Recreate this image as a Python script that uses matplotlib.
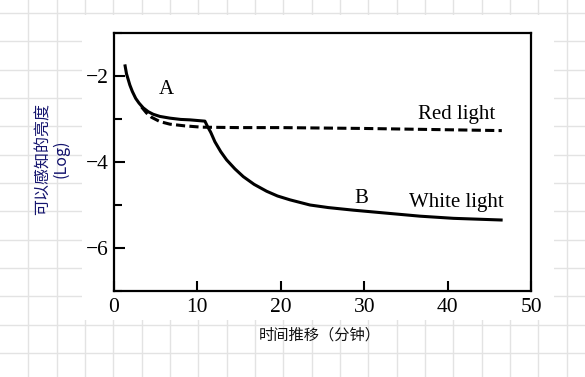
import numpy as np
import matplotlib.pyplot as plt
from matplotlib.patches import Rectangle
from matplotlib.ticker import MultipleLocator

# solid curve (A then B, white light)
white_x = [1.3, 1.5, 1.9, 2.2, 2.6, 3.0, 3.5, 4.1, 4.7, 5.5, 6.7, 8.0, 9.1, 10.9,
           11.2, 11.6, 12.1, 12.8, 13.5, 14.5, 15.5, 16.8, 18.3, 19.6, 21.1,
           23.5, 25.7, 28.7, 32.7, 36.7, 40.7, 46.6]
white_y = [-1.73, -1.95, -2.21, -2.36, -2.52, -2.63, -2.74, -2.83, -2.89, -2.94, -2.98,
           -3.01, -3.02, -3.05, -3.17, -3.31, -3.53, -3.76, -3.95, -4.16, -4.34, -4.52,
           -4.68, -4.79, -4.88, -5.0, -5.06, -5.12, -5.19, -5.26, -5.31, -5.35]

# dashed curve (red light)
red_x = [3.3, 3.9, 4.5, 5.5, 6.7, 8.5, 10.5, 15, 20, 30, 40, 46.5]
red_y = [-2.72, -2.86, -2.96, -3.06, -3.12, -3.16, -3.19, -3.2, -3.2, -3.22, -3.25, -3.27]

xticks = [0, 10, 20, 30, 40, 50]
yticks = [-2, -4, -6]

W, H = 585, 377
fig = plt.figure(figsize=(W / 100, H / 100), dpi=100)

# graph-paper background
bg = fig.add_axes([0, 0, 1, 1])
bg.set_xlim(0, W)
bg.set_ylim(H, 0)
bg.set_xticks(28.33 * np.arange(1, 21))
bg.set_yticks(13 + 28.33 * np.arange(0, 13))
bg.tick_params(length=0, labelbottom=False, labelleft=False)
for s in bg.spines.values():
    s.set_visible(False)
bg.grid(True, color='#e3e3e3', lw=1)
bg.add_patch(Rectangle((82, 15), 554 - 82, 320 - 15, facecolor='white', edgecolor='none', zorder=3))

ax = fig.add_axes([114 / W, 1 - 291 / H, (531 - 114) / W, (291 - 33) / H])
ax.plot(white_x, white_y, color='black', lw=2.2, solid_capstyle='butt', solid_joinstyle='round')
ax.plot(red_x, red_y, color='black', lw=2.2, dashes=(3, 1.4))

ax.set_xlim(0, 50)
ax.set_ylim(-7, -1)
ax.set_xticks(xticks)
ax.set_yticks(yticks)
ax.yaxis.set_minor_locator(MultipleLocator(1))
ax.set_yticklabels(['\u22122', '\u22124', '\u22126'])
ax.tick_params(direction='in', width=1.5, labelsize=15.5)
ax.tick_params(axis='x', length=7, pad=5)
ax.tick_params(axis='y', which='major', length=8, pad=4)
ax.tick_params(axis='y', which='minor', length=6, width=1.5, direction='in')
for lab in ax.get_xticklabels() + ax.get_yticklabels():
    lab.set_family('Liberation Serif')
for s in ax.spines.values():
    s.set_linewidth(1.6)

serif = dict(family='Liberation Serif', fontsize=15, color='black')
ax.text(6.3, -2.43, 'A', ha='center', va='baseline', **serif)
ax.text(41.1, -3.0, 'Red light', ha='center', va='baseline', **serif)
ax.text(29.7, -4.96, 'B', ha='center', va='baseline', **serif)
ax.text(41.05, -5.04, 'White light', ha='center', va='baseline', **serif)

fig.text(52.5 / W, 1 - 159 / H, '可以感知的亮度\n(Log)', rotation=90, ha='center', va='center',
         multialignment='center', fontsize=11.5, color='#14146e',
         family=['Noto Sans CJK SC', 'DejaVu Sans'], linespacing=1.05)
fig.text(320 / W, 1 - 335 / H, '时间推移（分钟）', ha='center', va='center', fontsize=11,
         color='#111111', family=['Noto Sans CJK SC', 'DejaVu Sans'])

fig.savefig('out.png', dpi=100)
